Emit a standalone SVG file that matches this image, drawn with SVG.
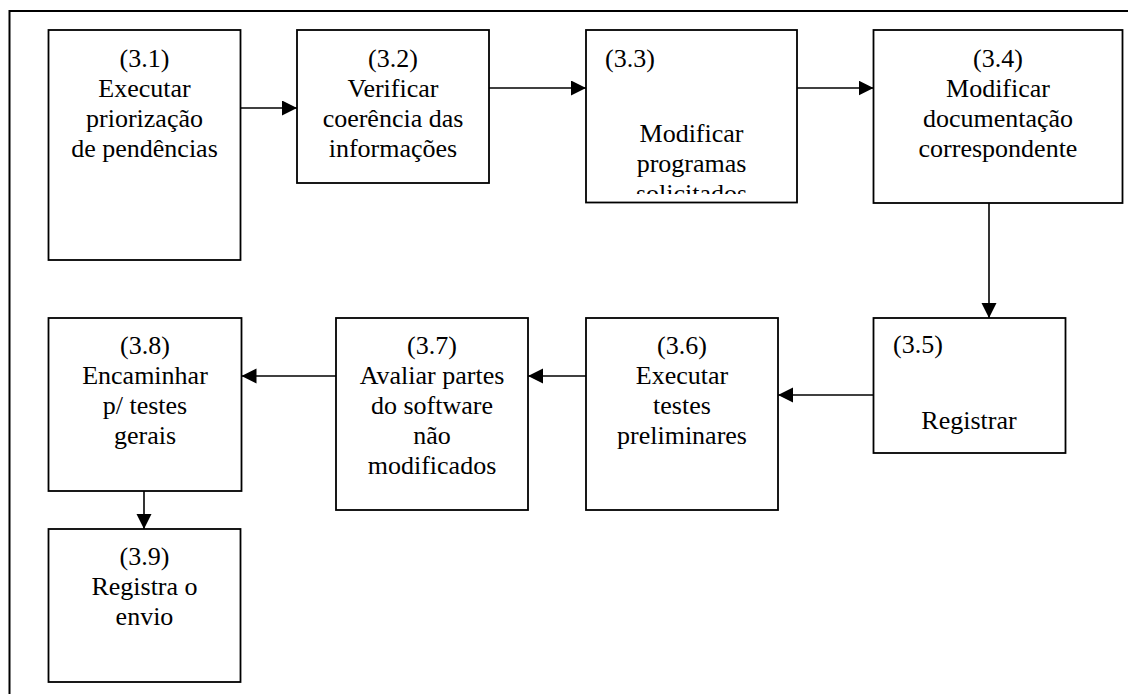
<svg xmlns="http://www.w3.org/2000/svg" width="1128" height="694" viewBox="0 0 1128 694">
  <style>
    .box { fill: #ffffff; stroke: #000000; stroke-width: 1.8; }
    .frame { fill: none; stroke: #000000; stroke-width: 2; }
    .lbl { font-size: 26px; fill: #000000; }
    .c { text-anchor: middle; }
    .edge { fill: none; stroke: #000000; stroke-width: 1.6; marker-end: url(#arrow); }
  </style>
  <defs>
    <marker id="arrow" markerUnits="userSpaceOnUse" markerWidth="16" markerHeight="16" viewBox="0 0 16 16" refX="15" refY="7.5" orient="auto">
      <path d="M0,0 L15,7.5 L0,15 Z" fill="#000000"/>
    </marker>
    <clipPath id="clip33">
      <rect x="587" y="31" width="209" height="163"/>
    </clipPath>
  </defs>

  <rect width="1128" height="694" fill="#ffffff"/>
  <!-- outer frame, continues past the right and bottom edges -->
  <rect class="frame" x="9.5" y="11" width="1200" height="800"/>

  <g font-family="'Liberation Serif', 'Times New Roman', Times, serif">
  <g id="n31">
    <rect class="box" x="48.5" y="30" width="192" height="230"/>
    <text class="lbl c" x="144.5" y="67">(3.1)</text>
    <text class="lbl c" x="144.5" y="97">Executar</text>
    <text class="lbl c" x="144.5" y="127">priorização</text>
    <text class="lbl c" x="144.5" y="157">de pendências</text>
  </g>

  <g id="n32">
    <rect class="box" x="297" y="30" width="192" height="153"/>
    <text class="lbl c" x="393" y="67">(3.2)</text>
    <text class="lbl c" x="393" y="97">Verificar</text>
    <text class="lbl c" x="393" y="127">coerência das</text>
    <text class="lbl c" x="393" y="157">informações</text>
  </g>

  <g id="n33">
    <rect class="box" x="586" y="30" width="211" height="172.5"/>
    <text class="lbl" x="605" y="67">(3.3)</text>
    <g clip-path="url(#clip33)">
      <text class="lbl c" x="691.5" y="142">Modificar</text>
      <text class="lbl c" x="691.5" y="172">programas</text>
      <text class="lbl c" x="691.5" y="202">solicitados</text>
    </g>
  </g>

  <g id="n34">
    <rect class="box" x="873.5" y="30" width="249" height="173"/>
    <text class="lbl c" x="998" y="67">(3.4)</text>
    <text class="lbl c" x="998" y="97">Modificar</text>
    <text class="lbl c" x="998" y="127">documentação</text>
    <text class="lbl c" x="998" y="157">correspondente</text>
  </g>

  <g id="n35">
    <rect class="box" x="873.5" y="318" width="192" height="135"/>
    <text class="lbl" x="893" y="353">(3.5)</text>
    <text class="lbl c" x="969" y="429">Registrar</text>
  </g>

  <g id="n36">
    <rect class="box" x="586" y="318" width="192" height="192"/>
    <text class="lbl c" x="682" y="354">(3.6)</text>
    <text class="lbl c" x="682" y="384">Executar</text>
    <text class="lbl c" x="682" y="414">testes</text>
    <text class="lbl c" x="682" y="444">preliminares</text>
  </g>

  <g id="n37">
    <rect class="box" x="336" y="318" width="192" height="192"/>
    <text class="lbl c" x="432" y="354">(3.7)</text>
    <text class="lbl c" x="432" y="384">Avaliar partes</text>
    <text class="lbl c" x="432" y="414">do software</text>
    <text class="lbl c" x="432" y="444">não</text>
    <text class="lbl c" x="432" y="474">modificados</text>
  </g>

  <g id="n38">
    <rect class="box" x="48.5" y="318" width="193" height="173"/>
    <text class="lbl c" x="145" y="354">(3.8)</text>
    <text class="lbl c" x="145" y="384">Encaminhar</text>
    <text class="lbl c" x="145" y="414">p/ testes</text>
    <text class="lbl c" x="145" y="444">gerais</text>
  </g>

  <g id="n39">
    <rect class="box" x="48.5" y="529" width="192" height="153"/>
    <text class="lbl c" x="144.5" y="565">(3.9)</text>
    <text class="lbl c" x="144.5" y="595">Registra o</text>
    <text class="lbl c" x="144.5" y="625">envio</text>
  </g>
  </g>

  <g id="connectors">
    <line class="edge" x1="240.5" y1="108" x2="297" y2="108"/>
    <line class="edge" x1="489" y1="88" x2="586" y2="88"/>
    <line class="edge" x1="797" y1="88" x2="873.5" y2="88"/>
    <line class="edge" x1="989" y1="203" x2="989" y2="318"/>
    <line class="edge" x1="873.5" y1="395" x2="778" y2="395"/>
    <line class="edge" x1="586" y1="376" x2="528" y2="376"/>
    <line class="edge" x1="336" y1="376" x2="241.5" y2="376"/>
    <line class="edge" x1="144" y1="491" x2="144" y2="529"/>
  </g>
</svg>
